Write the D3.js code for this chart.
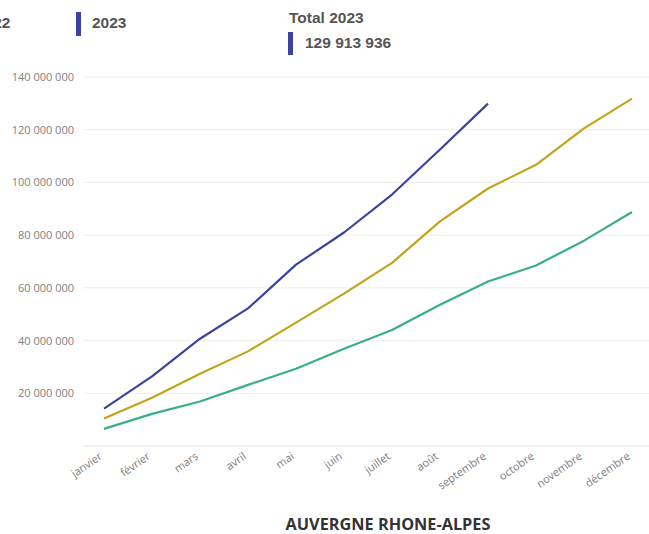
<!DOCTYPE html>
<meta charset="utf-8">
<style>
    body { margin: 0; background: #fff; }
    .ylab text, .xlab text { fill: #808080; font-family: "Open Sans", sans-serif; font-size: 11px; }
    .legend text { font-family: "Liberation Sans", Arial, sans-serif; font-weight: bold; font-size: 15.5px; fill: #555; }
</style>
<svg width="649" height="534"></svg>
<script src="https://d3js.org/d3.v7.min.js"></script>
<script>
    var months = ["janvier", "février", "mars", "avril", "mai", "juin", "juillet", "août", "septembre", "octobre", "novembre", "décembre"];
    var yTicks = [20000000, 40000000, 60000000, 80000000, 100000000, 120000000, 140000000];

    var v2021 = [6500000, 12200000, 16900000, 23200000, 29300000, 36900000, 44000000, 53600000, 62400000, 68500000, 77900000, 88800000];
    var v2022 = [10400000, 18300000, 27400000, 35900000, 46800000, 57800000, 69500000, 85200000, 97700000, 106700000, 120500000, 131800000];
    var v2023 = [14200000, 26400000, 40700000, 52200000, 68800000, 81000000, 95400000, 112500000, 129913936];

    var series = [
        { name: "2021", values: v2021, color: "#3aae8c" },
        { name: "2022", values: v2022, color: "#c4a31c" },
        { name: "2023", values: v2023, color: "#3a449f" }
    ];

    var svg = d3.select("svg");

    var x = d3.scalePoint().domain(months).range([104, 632]);
    var y = d3.scaleLinear().domain([0, 140000000]).range([446, 77]);

    var fmt = function (d) { return d3.format(",")(d).replace(/,/g, " "); };

    // gridlines
    svg.append("g")
        .selectAll("line").data(yTicks.concat([0])).enter().append("line")
        .attr("x1", 84).attr("x2", 649)
        .attr("y1", d => y(d)).attr("y2", d => y(d))
        .attr("stroke", d => d === 0 ? "#e2e2e2" : "#ededed");

    // y labels
    svg.append("g").attr("class", "ylab")
        .selectAll("text").data(yTicks).enter().append("text")
        .attr("x", 74).attr("y", d => y(d) + 4)
        .attr("text-anchor", "end")
        .text(fmt);

    // x labels
    svg.append("g").attr("class", "xlab")
        .selectAll("text").data(months).enter().append("text")
        .attr("text-anchor", "end")
        .attr("transform", d => "translate(" + (x(d) - 1) + ",458) rotate(-35)")
        .text(d => d);

    var line = d3.line()
        .x((d, i) => x(months[i]))
        .y(d => y(d));

    svg.append("g").selectAll("path").data(series).enter().append("path")
        .attr("d", d => line(d.values))
        .attr("fill", "none")
        .attr("stroke", d => d.color)
        .attr("stroke-width", 2.2)
        .attr("stroke-linejoin", "round");

    // legend (left part cut off as in original)
    var legend = svg.append("g").attr("class", "legend");
    var items = [{ name: "2022", color: "#c4a31c", x: -40 }, { name: "2023", color: "#3a449f", x: 76 }];
    items.forEach(function (it) {
        legend.append("rect").attr("x", it.x).attr("y", 12).attr("width", 5).attr("height", 24).attr("fill", it.color);
        legend.append("text").attr("x", it.x + 16).attr("y", 28).text(it.name);
    });
    legend.append("text").attr("x", 289).attr("y", 23).text("Total 2023");
    legend.append("rect").attr("x", 288).attr("y", 32).attr("width", 5).attr("height", 23).attr("fill", "#3a449f");
    legend.append("text").attr("x", 305).attr("y", 48).text(fmt(v2023[v2023.length - 1]));

    svg.append("text")
        .attr("x", 388).attr("y", 530)
        .attr("text-anchor", "middle")
        .attr("font-family", "'Open Sans', sans-serif")
        .attr("font-weight", "bold")
        .attr("font-size", 16.3)
        .attr("fill", "#333")
        .text("AUVERGNE RHONE-ALPES");
</script>
